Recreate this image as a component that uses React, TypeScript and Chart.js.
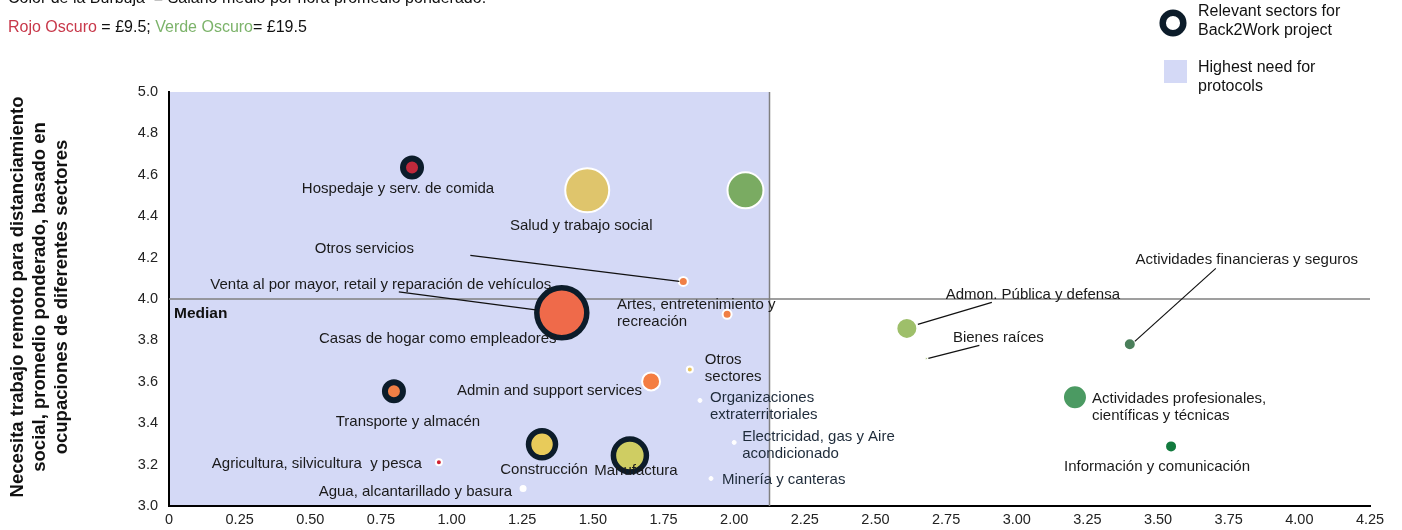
import { useEffect, useRef } from "react";
import { Chart, registerables } from "chart.js";

Chart.register(...registerables);

// ---------- Data ----------
const sectors = [
  "Hospedaje y serv. de comida",
  "Salud y trabajo social",
  "Educación",
  "Otros servicios",
  "Venta al por mayor, retail y reparación de vehículos",
  "Artes, entretenimiento y recreación",
  "Otros sectores",
  "Admin and support services",
  "Organizaciones extraterritoriales",
  "Electricidad, gas y Aire acondicionado",
  "Minería y canteras",
  "Transporte y almacén",
  "Agricultura, silvicultura y pesca",
  "Agua, alcantarillado y basura",
  "Construcción",
  "Manufactura",
  "Admon. Pública y defensa",
  "Bienes raíces",
  "Actividades financieras y seguros",
  "Actividades profesionales, científicas y técnicas",
  "Información y comunicación",
];
const xValues = [0.86, 1.48, 2.04, 1.82, 1.39, 1.975, 1.843, 1.706, 1.879, 2.0, 1.918, 0.796, 0.955, 1.253, 1.32, 1.631, 2.611, 2.68, 3.4, 3.206, 3.546];
const yValues = [4.635, 4.525, 4.525, 4.085, 3.933, 3.926, 3.66, 3.602, 3.51, 3.307, 3.133, 3.554, 3.211, 3.085, 3.298, 3.244, 3.858, 3.713, 3.781, 3.525, 3.288];
const bubbleSizes = [9, 22, 18, 4.5, 25, 4.5, 3, 9, 2, 2, 2, 9, 3, 2.5, 13.5, 16.5, 10.5, 1, 6, 12, 6];
const wageColors = [
  "#c0293b", "#dfc56c", "#7aab62", "#f07f45", "#ef6a4a", "#f07f45", "#e7c35c", "#f47d42",
  "#ffffff", "#ffffff", "#ffffff", "#f07f45", "#d02030", "#ffffff", "#e8cb5a", "#cfcd62",
  "#9ebf6a", "#9ebf6a", "#4a7f5a", "#4b9a62", "#127a3e",
];
const relevant = [true, false, false, false, true, false, false, false, false, false, false, true, false, false, true, true, false, false, false, false, false];
const medianY = 4.0;
const needBoundaryX = 2.125;

// ---------- Label layout (pixel offsets from the bubble centre) ----------
type Lbl = { i: number; lines: string[]; dx: number; dy: number; align: CanvasTextAlign; color?: string; leader?: [number, number, number, number] };
const labelLayout: Lbl[] = [
  { i: 0, lines: ["Hospedaje y serv. de comida"], dx: -14, dy: 21, align: "center" },
  { i: 1, lines: ["Salud y trabajo social"], dx: -6, dy: 36, align: "center" },
  { i: 3, lines: ["Otros servicios"], dx: -319, dy: -33, align: "center", leader: [-213, -26, -4, 0] },
  { i: 4, lines: ["Venta al por mayor, retail y reparación de vehículos"], dx: -181, dy: -28, align: "center", leader: [-163, -21, -26, -3] },
  { i: 4, lines: ["Casas de hogar como empleadores"], dx: -124, dy: 26, align: "center" },
  { i: 5, lines: ["Artes, entretenimiento y", "recreación"], dx: -110, dy: -9, align: "left" },
  { i: 6, lines: ["Otros", "sectores"], dx: 15, dy: -10, align: "left" },
  { i: 7, lines: ["Admin and support services"], dx: -9, dy: 9, align: "right" },
  { i: 8, lines: ["Organizaciones", "extraterritoriales"], dx: 10, dy: -3, align: "left", color: "#1e2b3a" },
  { i: 9, lines: ["Electricidad, gas y Aire", "acondicionado"], dx: 8, dy: -6, align: "left", color: "#1e2b3a" },
  { i: 10, lines: ["Minería y canteras"], dx: 11, dy: 1, align: "left", color: "#1e2b3a" },
  { i: 11, lines: ["Transporte y almacén"], dx: 14, dy: 31, align: "center" },
  { i: 12, lines: ["Agricultura, silvicultura  y pesca"], dx: -17, dy: 2, align: "right" },
  { i: 13, lines: ["Agua, alcantarillado y basura"], dx: -11, dy: 3, align: "right" },
  { i: 14, lines: ["Construcción"], dx: 2, dy: 26, align: "center" },
  { i: 15, lines: ["Manufactura"], dx: 6, dy: 15, align: "center" },
  { i: 16, lines: ["Admon. Pública y defensa"], dx: 126, dy: -34, align: "center", leader: [11, -4, 85, -26] },
  { i: 17, lines: ["Bienes raíces"], dx: 72, dy: -21, align: "center", leader: [2, 0, 53, -13] },
  { i: 18, lines: ["Actividades financieras y seguros"], dx: 117, dy: -84, align: "center", leader: [5, -3, 86, -76] },
  { i: 19, lines: ["Actividades profesionales,", "científicas y técnicas"], dx: 17, dy: 2, align: "left" },
  { i: 20, lines: ["Información y comunicación"], dx: -14, dy: 20, align: "center" },
];

const FONT = "'Liberation Sans', Arial, sans-serif";
const RING = "#0c1c2a";
const SHADE = "#d4d9f6";

const overlay = {
  id: "overlay",
  beforeDraw(chart: any) {
    const { ctx, chartArea: a, scales } = chart;
    const xr = scales.x.getPixelForValue(needBoundaryX);
    ctx.save();
    ctx.fillStyle = SHADE;
    ctx.fillRect(a.left, a.top, xr - a.left, a.bottom - a.top);

    // header
    ctx.font = `16px ${FONT}`;
    ctx.textBaseline = "alphabetic";
    ctx.textAlign = "left";
    ctx.fillStyle = "#111";
    ctx.fillText("Color de la Burbuja  = Salario medio por hora promedio ponderado.", 8, 3);
    ctx.textBaseline = "middle";
    let px = 8;
    const seg = (t: string, c: string) => {
      ctx.fillStyle = c;
      ctx.fillText(t, px, 27.5);
      px += ctx.measureText(t).width;
    };
    seg("Rojo Oscuro", "#c8384a");
    seg(" = £9.5; ", "#111");
    seg("Verde Oscuro", "#7cb36a");
    seg("= £19.5", "#111");

    // legend
    ctx.beginPath();
    ctx.arc(1173, 23, 10.3, 0, Math.PI * 2);
    ctx.fillStyle = "#fff";
    ctx.fill();
    ctx.lineWidth = 6.5;
    ctx.strokeStyle = RING;
    ctx.stroke();
    ctx.fillStyle = SHADE;
    ctx.fillRect(1164, 60, 23, 23);
    ctx.fillStyle = "#111";
    ctx.font = `16px ${FONT}`;
    ctx.fillText("Relevant sectors for", 1198, 12);
    ctx.fillText("Back2Work project", 1198, 31);
    ctx.fillText("Highest need for", 1198, 68);
    ctx.fillText("protocols", 1198, 87);

    // y title
    ctx.save();
    ctx.translate(0, 297);
    ctx.rotate(-Math.PI / 2);
    ctx.font = `bold 18.5px ${FONT}`;
    ctx.textAlign = "center";
    ctx.fillStyle = "#111";
    ctx.fillText("Necesita trabajo remoto para distanciamiento", 0, 18);
    ctx.fillText("social, promedio ponderado, basado en", 0, 40);
    ctx.fillText("ocupaciones de diferentes sectores", 0, 62);
    ctx.restore();
    ctx.restore();
  },
  beforeDatasetsDraw(chart: any) {
    const { ctx, chartArea: a, scales } = chart;
    const xr = scales.x.getPixelForValue(needBoundaryX);
    const ym = scales.y.getPixelForValue(medianY);
    ctx.save();
    ctx.strokeStyle = "#808080";
    ctx.lineWidth = 1.5;
    ctx.beginPath();
    ctx.moveTo(a.left, ym);
    ctx.lineTo(a.right, ym);
    ctx.moveTo(xr, a.top);
    ctx.lineTo(xr, a.bottom);
    ctx.stroke();
    ctx.font = `bold 15.5px ${FONT}`;
    ctx.fillStyle = "#111";
    ctx.textBaseline = "middle";
    ctx.textAlign = "left";
    ctx.fillText("Median", a.left + 5, ym + 15);
    ctx.restore();
  },
  afterDatasetsDraw(chart: any) {
    const { ctx, scales } = chart;
    ctx.save();
    ctx.font = `15px ${FONT}`;
    ctx.textBaseline = "middle";
    for (const l of labelLayout) {
      const cx = scales.x.getPixelForValue(xValues[l.i]);
      const cy = scales.y.getPixelForValue(yValues[l.i]);
      if (l.leader) {
        ctx.strokeStyle = "#111";
        ctx.lineWidth = 1.2;
        ctx.beginPath();
        ctx.moveTo(cx + l.leader[0], cy + l.leader[1]);
        ctx.lineTo(cx + l.leader[2], cy + l.leader[3]);
        ctx.stroke();
      }
      ctx.fillStyle = l.color || "#1a1a1a";
      ctx.textAlign = l.align;
      l.lines.forEach((t, k) => ctx.fillText(t, cx + l.dx, cy + l.dy + k * 17));
    }
    ctx.restore();
  },
};

export default function App() {
  const ref = useRef<HTMLCanvasElement | null>(null);
  useEffect(() => {
    if (!ref.current) return;
    const chart = new Chart(ref.current, {
      type: "bubble",
      data: {
        datasets: [
          {
            label: "Sectores",
            data: sectors.map((_, i) => ({ x: xValues[i], y: yValues[i], r: bubbleSizes[i] })),
            backgroundColor: wageColors,
            borderColor: relevant.map((r) => (r ? RING : "#ffffff")),
            borderWidth: relevant.map((r, i) => (r ? (bubbleSizes[i] > 12 ? 5.5 : 6) : bubbleSizes[i] > 2 ? 2 : 1)),
            hoverRadius: 0,
          } as any,
        ],
      },
      options: {
        responsive: false,
        animation: false,
        devicePixelRatio: 1,
        events: [],
        layout: { autoPadding: false, padding: { top: 92, right: 32, left: 0, bottom: 0 } },
        plugins: { legend: { display: false }, tooltip: { enabled: false } },
        scales: {
          x: {
            type: "linear",
            min: 0,
            max: 4.25,
            grid: { display: false, drawTicks: false },
            border: { display: true, color: "#000", width: 2 },
            ticks: {
              stepSize: 0.25,
              padding: 5,
              color: "#222",
              font: { family: FONT, size: 14.5 },
              callback: (v: any) => (Number(v) === 0 ? "0" : Number(v).toFixed(2)),
            },
            afterFit: (s: any) => {
              s.height = 24;
            },
          },
          y: {
            type: "linear",
            min: 3,
            max: 5,
            grid: { display: false, drawTicks: false },
            border: { display: true, color: "#000", width: 2 },
            ticks: {
              stepSize: 0.2,
              padding: 11,
              color: "#222",
              font: { family: FONT, size: 14.5 },
              callback: (v: any) => Number(v).toFixed(1),
            },
            afterFit: (s: any) => {
              s.width = 169;
            },
          },
        },
      },
      plugins: [overlay],
    });
    return () => chart.destroy();
  }, []);
  return (
    <div style={{ position: "absolute", left: 0, top: 0, width: 1402, height: 530, background: "#fff" }}>
      <canvas ref={ref} width={1402} height={530} />
    </div>
  );
}
